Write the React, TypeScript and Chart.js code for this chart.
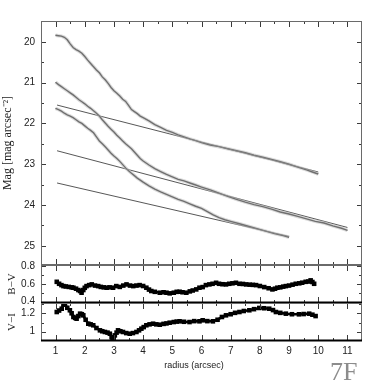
import React, { useEffect, useRef } from "react";
import { Chart, registerables } from "chart.js";

Chart.register(...registerables);

// ---------- data ----------
const radiusTicks = [1, 2, 3, 4, 5, 6, 7, 8, 9, 10, 11];
const radiusMinor = [0.5, 1.5, 2.5, 3.5, 4.5, 5.5, 6.5, 7.5, 8.5, 9.5, 10.5, 11.5];
const magTicks = [20, 21, 22, 23, 24, 25];
const magMinor = [19.5, 20.5, 21.5, 22.5, 23.5, 24.5];
const bvTicks = [0.4, 0.6, 0.8];
const bvMinor = [0.5, 0.7];
const viTicks = [1, 1.2];
const viMinor = [0.9, 1.1, 1.3];

// [radius, mag] surface-brightness profiles
const profileTop: [number, number][] = [
  [1.0, 19.84], [1.1, 19.85], [1.2, 19.86], [1.3, 19.89], [1.4, 19.95], [1.5, 20.05], [1.6, 20.14], [1.7, 20.19],
  [1.8, 20.23], [1.9, 20.28], [2.0, 20.36], [2.1, 20.45], [2.2, 20.53], [2.3, 20.61], [2.4, 20.69], [2.5, 20.76],
  [2.6, 20.86], [2.7, 20.93], [2.8, 21.02], [2.9, 21.12], [3.0, 21.2], [3.1, 21.26], [3.2, 21.33], [3.3, 21.41],
  [3.4, 21.46], [3.5, 21.56], [3.6, 21.66], [3.7, 21.71], [3.8, 21.76], [3.9, 21.82], [4.0, 21.86], [4.2, 21.94],
  [4.4, 22.03], [4.6, 22.1], [4.8, 22.17], [5.0, 22.22], [5.2, 22.28], [5.4, 22.33], [5.6, 22.38], [5.8, 22.42],
  [6.0, 22.47], [6.3, 22.53], [6.6, 22.57], [6.9, 22.62], [7.2, 22.67], [7.5, 22.72], [7.8, 22.78], [8.1, 22.83],
  [8.4, 22.88], [8.7, 22.94], [9.0, 23.0], [9.3, 23.07], [9.6, 23.14], [9.8, 23.19], [10.0, 23.24],
];
const profileMid: [number, number][] = [
  [1.0, 20.99], [1.1, 21.05], [1.2, 21.1], [1.3, 21.15], [1.4, 21.2], [1.5, 21.25], [1.6, 21.3], [1.7, 21.36],
  [1.8, 21.42], [1.9, 21.47], [2.0, 21.52], [2.1, 21.58], [2.2, 21.63], [2.3, 21.69], [2.4, 21.75], [2.5, 21.82],
  [2.6, 21.91], [2.7, 21.99], [2.8, 22.07], [2.9, 22.14], [3.0, 22.21], [3.1, 22.29], [3.2, 22.36], [3.3, 22.43],
  [3.4, 22.5], [3.5, 22.56], [3.6, 22.62], [3.7, 22.7], [3.8, 22.78], [3.9, 22.86], [4.0, 22.92], [4.2, 23.02],
  [4.4, 23.11], [4.6, 23.18], [4.8, 23.25], [5.0, 23.31], [5.2, 23.37], [5.4, 23.41], [5.6, 23.46], [5.8, 23.51],
  [6.0, 23.56], [6.3, 23.63], [6.6, 23.71], [6.9, 23.79], [7.2, 23.86], [7.5, 23.93], [7.8, 23.99], [8.1, 24.04],
  [8.4, 24.1], [8.7, 24.17], [9.0, 24.22], [9.3, 24.28], [9.6, 24.34], [9.9, 24.4], [10.2, 24.44], [10.5, 24.51],
  [10.8, 24.57], [11.0, 24.62],
];
const profileLow: [number, number][] = [
  [1.0, 21.63], [1.1, 21.66], [1.2, 21.7], [1.3, 21.75], [1.4, 21.79], [1.5, 21.82], [1.6, 21.86], [1.7, 21.91],
  [1.8, 21.96], [1.9, 22.0], [2.0, 22.06], [2.1, 22.12], [2.2, 22.17], [2.3, 22.23], [2.4, 22.33], [2.5, 22.43],
  [2.6, 22.5], [2.7, 22.57], [2.8, 22.65], [2.9, 22.73], [3.0, 22.8], [3.1, 22.86], [3.2, 22.93], [3.3, 23.01],
  [3.4, 23.09], [3.5, 23.16], [3.6, 23.22], [3.7, 23.28], [3.8, 23.34], [3.9, 23.39], [4.0, 23.44], [4.2, 23.53],
  [4.4, 23.61], [4.6, 23.68], [4.8, 23.74], [5.0, 23.8], [5.2, 23.86], [5.4, 23.91], [5.6, 23.97], [5.8, 24.03],
  [6.0, 24.08], [6.2, 24.16], [6.4, 24.24], [6.6, 24.31], [6.8, 24.36], [7.0, 24.4], [7.3, 24.46], [7.6, 24.52],
  [7.9, 24.58], [8.2, 24.64], [8.5, 24.7], [8.8, 24.75], [9.0, 24.79],
];

// straight-line fits [radius, mag]
const fitTop: [number, number][] = [[1.05, 21.55], [10.0, 23.19]];
const fitMid: [number, number][] = [[1.05, 22.67], [11.0, 24.55]];
const fitLow: [number, number][] = [[1.05, 23.46], [9.0, 24.77]];

// colour profiles [radius, colour]
const bvProfile: [number, number][] = [
  [1.04, 0.622], [1.12, 0.6], [1.2, 0.585], [1.27, 0.574], [1.35, 0.57], [1.45, 0.565], [1.55, 0.56], [1.61, 0.556],
  [1.7, 0.545], [1.78, 0.53], [1.84, 0.519], [1.89, 0.5], [1.95, 0.53], [2.0, 0.555], [2.06, 0.574], [2.15, 0.585],
  [2.24, 0.593], [2.35, 0.58], [2.46, 0.574], [2.55, 0.565], [2.65, 0.56], [2.75, 0.556], [2.85, 0.56], [2.97, 0.556],
  [3.08, 0.574], [3.2, 0.565], [3.32, 0.58], [3.43, 0.593], [3.55, 0.58], [3.66, 0.574], [3.77, 0.58], [3.88, 0.585],
  [4.0, 0.575], [4.11, 0.556], [4.2, 0.535], [4.28, 0.519], [4.4, 0.51], [4.57, 0.5], [4.7, 0.505], [4.8, 0.5],
  [4.91, 0.493], [5.05, 0.5], [5.15, 0.51], [5.25, 0.511], [5.35, 0.505], [5.48, 0.5], [5.6, 0.515], [5.7, 0.525],
  [5.82, 0.537], [5.93, 0.556], [6.04, 0.563], [6.15, 0.585], [6.27, 0.593], [6.38, 0.6], [6.5, 0.611], [6.6, 0.6],
  [6.72, 0.595], [6.84, 0.593], [6.95, 0.6], [7.06, 0.605], [7.18, 0.611], [7.3, 0.6], [7.42, 0.598], [7.53, 0.593],
  [7.65, 0.59], [7.76, 0.588], [7.87, 0.585], [8.0, 0.575], [8.15, 0.563], [8.3, 0.55], [8.43, 0.537], [8.52, 0.545],
  [8.6, 0.556], [8.7, 0.56], [8.8, 0.568], [8.89, 0.574], [9.0, 0.58], [9.12, 0.59], [9.23, 0.6], [9.35, 0.605],
  [9.45, 0.612], [9.57, 0.622], [9.66, 0.625], [9.74, 0.638], [9.8, 0.62], [9.86, 0.6],
];
const viProfile: [number, number][] = [
  [1.04, 1.214], [1.12, 1.23], [1.21, 1.25], [1.27, 1.3], [1.32, 1.294], [1.4, 1.26], [1.49, 1.233], [1.55, 1.2],
  [1.61, 1.16], [1.67, 1.15], [1.72, 1.141], [1.78, 1.17], [1.84, 1.196], [1.9, 1.19], [1.95, 1.178], [2.03, 1.13],
  [2.12, 1.087], [2.2, 1.08], [2.29, 1.07], [2.4, 1.04], [2.52, 1.015], [2.6, 1.005], [2.69, 0.997], [2.78, 0.99],
  [2.86, 0.978], [2.92, 0.94], [2.95, 0.906], [2.99, 0.93], [3.03, 0.96], [3.09, 0.99], [3.14, 1.015], [3.22, 1.005],
  [3.31, 0.997], [3.42, 0.985], [3.54, 0.978], [3.65, 0.985], [3.77, 0.997], [3.86, 1.015], [3.94, 1.033], [4.02, 1.05],
  [4.11, 1.07], [4.22, 1.08], [4.34, 1.087], [4.45, 1.08], [4.57, 1.076], [4.7, 1.085], [4.8, 1.09], [4.91, 1.098],
  [5.05, 1.105], [5.15, 1.11], [5.25, 1.113], [5.4, 1.108], [5.59, 1.105], [5.75, 1.115], [5.93, 1.113], [6.04, 1.124],
  [6.2, 1.115], [6.39, 1.113], [6.55, 1.13], [6.7, 1.16], [6.84, 1.178], [7.0, 1.19], [7.15, 1.205], [7.3, 1.214],
  [7.45, 1.225], [7.64, 1.233], [7.8, 1.245], [7.98, 1.258], [8.15, 1.255], [8.32, 1.25], [8.45, 1.235], [8.55, 1.214],
  [8.7, 1.205], [8.89, 1.196], [9.1, 1.19], [9.34, 1.189], [9.5, 1.192], [9.69, 1.196], [9.8, 1.185], [9.91, 1.17],
];

// ---------- helpers ----------
const SANS = "'Liberation Sans', Arial, sans-serif";
const SERIF = "'Liberation Serif', 'Times New Roman', serif";
const X_MIN = 0.5;
const X_MAX = 11.5;

const pts = (arr: [number, number][]) => arr.map(([x, y]) => ({ x, y }));

const frameTicks = {
  id: "frameTicks",
  afterDatasetsDraw(chart: any, _args: any, opts: any) {
    const { ctx, chartArea: a, scales } = chart;
    const xs = scales.x;
    const ys = scales.y;
    ctx.save();
    ctx.strokeStyle = "#3a3a3a";
    ctx.lineWidth = 1;
    const seg = (x1: number, y1: number, x2: number, y2: number) => {
      ctx.beginPath();
      ctx.moveTo(x1, y1);
      ctx.lineTo(x2, y2);
      ctx.stroke();
    };
    const xt = (vals: number[], len: number) => {
      for (const v of vals) {
        const p = Math.round(xs.getPixelForValue(v)) + 0.5;
        if (p < a.left || p > a.right) continue;
        seg(p, a.top, p, a.top + len);
        seg(p, a.bottom, p, a.bottom - len);
      }
    };
    const yt = (vals: number[], len: number) => {
      for (const v of vals) {
        const p = Math.round(ys.getPixelForValue(v)) + 0.5;
        if (p < a.top || p > a.bottom) continue;
        seg(a.left, p, a.left + len, p);
        seg(a.right, p, a.right - len, p);
      }
    };
    xt(opts.xMajor, 6);
    xt(opts.xMinor, 3);
    yt(opts.yMajor, 5);
    yt(opts.yMinor, 3);
    // frame
    ctx.strokeStyle = "#6a6a6a";
    ctx.strokeRect(a.left + 0.5, a.top + 0.5, a.right - a.left - 1, a.bottom - a.top - 1);
    if (opts.heavyBottom) {
      ctx.strokeStyle = "#000";
      ctx.lineWidth = 2;
      seg(a.left, a.bottom - 0.5, a.right, a.bottom - 0.5);
    }
    ctx.restore();
  },
};

function xScale(show: boolean) {
  return {
    type: "linear",
    min: X_MIN,
    max: X_MAX,
    display: show,
    afterBuildTicks: (s: any) => {
      s.ticks = radiusTicks.map((v) => ({ value: v }));
    },
    afterFit: (s: any) => {
      if (show) s.height = 30;
    },
    grid: { display: false, drawTicks: false },
    border: { display: false },
    ticks: {
      padding: 4,
      color: "#222",
      font: { family: SANS, size: 10 },
      maxRotation: 0,
      autoSkip: false,
      callback: (v: number) => String(v),
    },
    title: {
      display: show,
      text: "radius (arcsec)\u00a0\u00a0\u00a0\u00a0\u00a0\u00a0",
      color: "#222",
      font: { family: SANS, size: 9 },
      padding: { top: 0, bottom: 0 },
    },
  };
}

function yScale(min: number, max: number, ticks: number[], title: string, titleSize: number, titlePad: number, reverse: boolean) {
  return {
    type: "linear",
    min,
    max,
    reverse,
    afterBuildTicks: (s: any) => {
      s.ticks = ticks.map((v) => ({ value: v }));
    },
    afterFit: (s: any) => {
      s.width = 41;
    },
    grid: { display: false, drawTicks: false },
    border: { display: false },
    ticks: {
      padding: 6,
      color: "#222",
      font: { family: SANS, size: 10 },
      autoSkip: false,
      callback: (v: number) => String(v),
    },
    title: {
      display: true,
      text: title,
      color: "#222",
      font: { family: SERIF, size: titleSize },
      padding: { top: titlePad, bottom: 0 },
    },
  };
}

function halo(data: [number, number][]) {
  return {
    data: pts(data),
    borderColor: "rgba(190,190,190,0.55)",
    borderWidth: 3.5,
    pointRadius: 0,
    tension: 0,
  };
}
function profileLine(data: [number, number][]) {
  return {
    data: pts(data),
    borderColor: "#111",
    borderWidth: 1.4,
    pointRadius: 0,
    tension: 0,
  };
}
function fitLine(data: [number, number][]) {
  return {
    data: pts(data),
    borderColor: "#444",
    borderWidth: 0.9,
    pointRadius: 0,
    tension: 0,
  };
}
function colourLine(data: [number, number][]) {
  return {
    data: pts(data),
    borderColor: "#000",
    borderWidth: 2.6,
    pointRadius: 1.4,
    pointStyle: "rect",
    pointBackgroundColor: "#000",
    pointBorderColor: "#000",
    tension: 0,
  };
}

const common = (padding: any, plug: any) => ({
  responsive: false,
  animation: false,
  events: [],
  layout: { padding },
  plugins: { legend: { display: false }, tooltip: { enabled: false }, frameTicks: plug },
});

export default function App() {
  const mainRef = useRef<HTMLCanvasElement>(null);
  const bvRef = useRef<HTMLCanvasElement>(null);
  const viRef = useRef<HTMLCanvasElement>(null);

  useEffect(() => {
    const charts: Chart[] = [];
    charts.push(
      new Chart(mainRef.current as HTMLCanvasElement, {
        type: "line",
        data: {
          datasets: [
            halo(profileTop), halo(profileMid), halo(profileLow),
            fitLine(fitTop), fitLine(fitMid), fitLine(fitLow),
            profileLine(profileTop), profileLine(profileMid), profileLine(profileLow),
          ] as any,
        },
        options: {
          ...common({ left: 0, top: 21, right: 20, bottom: 117 }, {
            xMajor: radiusTicks, xMinor: radiusMinor, yMajor: magTicks, yMinor: magMinor, heavyBottom: false,
          }),
          scales: {
            x: xScale(false),
            y: yScale(19.49, 25.47, magTicks, "Mag [mag arcsec\u207b\u00b2]", 12, 1, true),
          },
        } as any,
        plugins: [frameTicks as any],
      })
    );
    charts.push(
      new Chart(bvRef.current as HTMLCanvasElement, {
        type: "line",
        data: { datasets: [colourLine(bvProfile)] as any },
        options: {
          ...common({ left: 0, top: 265, right: 20, bottom: 79 }, {
            xMajor: radiusTicks, xMinor: radiusMinor, yMajor: bvTicks, yMinor: bvMinor, heavyBottom: true,
          }),
          scales: {
            x: xScale(false),
            y: yScale(0.385, 0.81, bvTicks, "B\u2212V", 11, 6, false),
          },
        } as any,
        plugins: [frameTicks as any],
      })
    );
    charts.push(
      new Chart(viRef.current as HTMLCanvasElement, {
        type: "line",
        data: { datasets: [colourLine(viProfile)] as any },
        options: {
          ...common({ left: 0, top: 303, right: 20, bottom: 11 }, {
            xMajor: radiusTicks, xMinor: radiusMinor, yMajor: viTicks, yMinor: viMinor, heavyBottom: true,
          }),
          scales: {
            x: xScale(true),
            y: yScale(0.899, 1.312, viTicks, "V\u2212I", 11, 6, false),
          },
        } as any,
        plugins: [frameTicks as any],
      })
    );
    return () => charts.forEach((c) => c.destroy());
  }, []);

  const cv: React.CSSProperties = { position: "absolute", left: 0, top: 0, width: 382, height: 382 };
  return (
    <div style={{ position: "fixed", left: 0, top: 0, width: 382, height: 382, background: "#fff", overflow: "hidden" }}>
      <canvas ref={mainRef} width={382} height={382} style={cv} />
      <canvas ref={bvRef} width={382} height={382} style={cv} />
      <canvas ref={viRef} width={382} height={382} style={cv} />
      <div
        style={{
          position: "absolute",
          left: 330,
          top: 359,
          fontFamily: SERIF,
          fontSize: 26,
          lineHeight: "26px",
          color: "#8c8c8c",
        }}
      >
        7F
      </div>
    </div>
  );
}
